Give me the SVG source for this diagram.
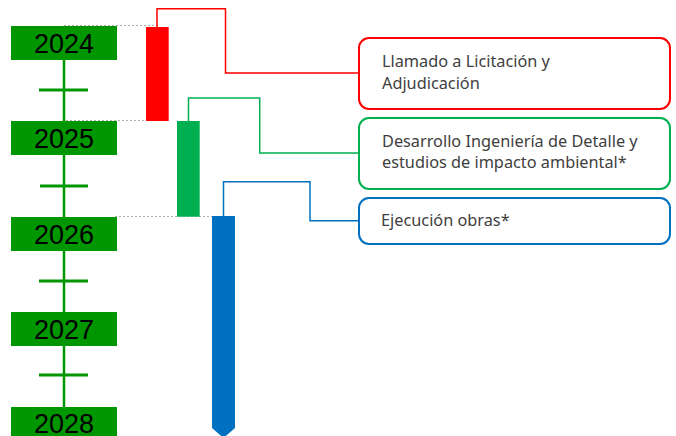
<svg xmlns="http://www.w3.org/2000/svg" width="676" height="436" viewBox="0 0 676 436">
<style>
.yb{fill:#009600}
.yt{font-family:"Liberation Sans",Arial,sans-serif;font-size:27px;fill:#000;text-anchor:middle}
.axis{stroke:#009600;stroke-width:2.5;fill:none}
.tick{stroke:#009600;stroke-width:3}
.dash{stroke:#b0b0b0;stroke-width:1;stroke-dasharray:2 2;fill:none}
.lbl{font-family:"Noto Sans","Open Sans",sans-serif;font-size:16.3px;fill:#404040}
.conn{fill:none;stroke-width:1.5}
</style>
<rect width="676" height="436" fill="#fff"/>
<g id="axis">
<line class="axis" x1="64" y1="60" x2="64" y2="121"/>
<line class="axis" x1="64" y1="155" x2="64" y2="217"/>
<line class="axis" x1="64" y1="251" x2="64" y2="312"/>
<line class="axis" x1="64" y1="346" x2="64" y2="407"/>
<line class="tick" x1="39" y1="90" x2="88" y2="90"/>
<line class="tick" x1="40" y1="186" x2="88" y2="186"/>
<line class="tick" x1="39" y1="281" x2="88" y2="281"/>
<line class="tick" x1="39" y1="375" x2="88" y2="375"/>
</g>
<g id="guides">
<line class="dash" x1="64" y1="25.5" x2="160" y2="25.5"/>
<line class="dash" x1="66" y1="120.5" x2="160" y2="120.5"/>
<line class="dash" x1="115" y1="216.5" x2="212" y2="216.5"/>
</g>
<g id="y2024"><rect class="yb" x="11" y="26" width="106" height="34"/><text class="yt" x="64" y="52.8">2024</text></g>
<g id="y2025"><rect class="yb" x="11" y="121" width="106" height="34"/><text class="yt" x="64" y="147.8">2025</text></g>
<g id="y2026"><rect class="yb" x="11" y="217" width="106" height="34"/><text class="yt" x="64" y="243.8">2026</text></g>
<g id="y2027"><rect class="yb" x="11" y="312" width="106" height="34"/><text class="yt" x="64" y="338.8">2027</text></g>
<g id="y2028"><rect class="yb" x="11" y="407" width="106" height="34"/><text class="yt" x="64" y="432.6">2028</text></g>
<g id="connectors">
<polyline class="conn" stroke="#ff0000" points="157,27 157,8.7 225.5,8.7 225.5,73 359,73"/>
<polyline class="conn" stroke="#00b050" points="188.5,121 188.5,98 259.7,98 259.7,153 359,153"/>
<polyline class="conn" stroke="#0070c0" points="223.5,216 223.5,181.7 310,181.7 310,220.7 359,220.7"/>
</g>
<g id="bar-licitacion"><rect x="146" y="27" width="22.7" height="94" fill="#ff0000"/></g>
<g id="bar-ingenieria"><rect x="177" y="121" width="22.7" height="95.7" fill="#00b050"/></g>
<g id="bar-obras"><polygon points="212,216 235,216 235,428 223.5,438 212,428" fill="#0070c0"/></g>
<g id="box-licitacion">
<rect x="359" y="38" width="311" height="71" rx="10" fill="#fff" stroke="#ff0000" stroke-width="2"/>
<text class="lbl" x="382" y="66.7">Llamado a Licitación y</text>
<text class="lbl" x="382" y="88.7">Adjudicación</text>
</g>
<g id="box-ingenieria">
<rect x="359" y="118" width="311" height="71" rx="10" fill="#fff" stroke="#00b050" stroke-width="2"/>
<text class="lbl" x="382" y="146.7">Desarrollo Ingeniería de Detalle y</text>
<text class="lbl" x="382" y="168">estudios de impacto ambiental*</text>
</g>
<g id="box-obras">
<rect x="359" y="198" width="311" height="46" rx="10" fill="#fff" stroke="#0070c0" stroke-width="2"/>
<text class="lbl" x="381" y="226">Ejecución obras*</text>
</g>
</svg>
